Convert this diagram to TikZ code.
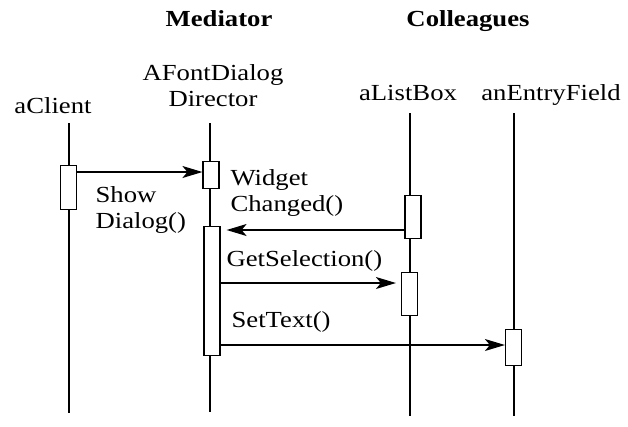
\documentclass[tikz,border=0pt]{standalone}
\usepackage{fontspec}
\setmainfont{Liberation Serif}[FakeStretch=1.16]
\usetikzlibrary{arrows.meta}
\begin{document}
\begin{tikzpicture}[x=1pt, y=-1pt, line width=1.2pt,
  font=\fontsize{23}{26}\selectfont,
  caja/.style={draw, fill=white, inner sep=0pt, minimum width=16pt},
  msg/.style={-{Stealth[length=20pt,width=12pt,inset=5pt]}},
  txt/.style={anchor=base west, inner sep=0pt, align=left},
  nombre/.style={anchor=base, inner sep=0pt, align=center},
  titulo/.style={nombre, font=\fontsize{23}{26}\selectfont\bfseries}]
  \useasboundingbox (0,0) rectangle (628,426);
  % los títulos
  \node[titulo] (mediador) at (219,26) {Mediator};
  \node[titulo] (colegas) at (468,26) {Colleagues};
  % los objetos
  \node[nombre] (cliente) at (53,113) {aClient};
  \node[nombre] (director) at (213,106) {AFontDialog\\Director};
  \node[nombre] (lista) at (408,100) {aListBox};
  \node[nombre] (campo) at (551,100) {anEntryField};
  % las líneas de vida
  \draw (69,123) -- (69,413);
  \draw (210,123) -- (210,412);
  \draw (410,113) -- (410,416);
  \draw (514,113) -- (514,416);
  % las cajas de activación
  \node[caja, minimum height=44pt] (cbox) at (68.5,187.5) {};
  \node[caja, minimum height=27pt] (dbox1) at (211,175) {};
  \node[caja, minimum height=129pt] (dbox2) at (212,291) {};
  \node[caja, minimum height=43pt] (lbox1) at (413,217) {};
  \node[caja, minimum height=43pt] (lbox2) at (409.5,294) {};
  \node[caja, minimum height=36pt] (ebox) at (513.5,347.5) {};
  % los mensajes
  \coordinate (m1) at (0,172);
  \coordinate (m2) at (0,230);
  \coordinate (m3) at (0,283);
  \coordinate (m4) at (0,345);
  \draw[msg] (cbox.east |- m1) -- (dbox1.west |- m1);
  \draw[msg, shorten >=6pt] (lbox1.west |- m2) -- (dbox2.east |- m2);
  \draw[msg, shorten >=5pt] (dbox2.east |- m3) -- (lbox2.west |- m3);
  \draw[msg] (dbox2.east |- m4) -- (ebox.west |- m4);
  \node[txt] (show) at (95,228) {Show\\Dialog()};
  \node[txt] (widget) at (230,211) {Widget\\Changed()};
  \node[txt] (getsel) at (226,266) {GetSelection()};
  \node[txt] (settext) at (231,327) {SetText()};
\end{tikzpicture}
\end{document}
